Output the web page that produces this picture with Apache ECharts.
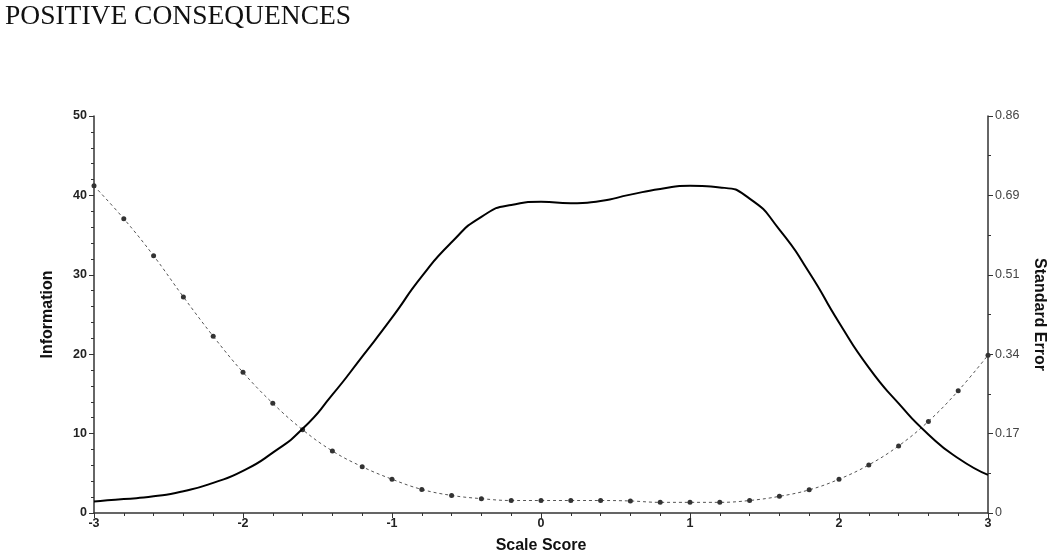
<!DOCTYPE html>
<html>
<head>
<meta charset="utf-8">
<script src="https://cdn.jsdelivr.net/npm/echarts@6/dist/echarts.min.js"></script>
<style>
html,body{margin:0;padding:0;background:#fff;overflow:hidden;width:100%;height:100%;}
#c{width:1050px;height:552px;position:absolute;left:0;top:0;}
</style>
</head>
<body>
<div id="c"></div>
<script>
// Scale score grid (x)
const scaleScores = [-3.0,-2.8,-2.6,-2.4,-2.2,-2.0,-1.8,-1.6,-1.4,-1.2,-1.0,-0.8,-0.6,-0.4,-0.2,0.0,0.2,0.4,0.6,0.8,1.0,1.2,1.4,1.6,1.8,2.0,2.2,2.4,2.6,2.8,3.0];
// Information (left axis)
const information = [1.45,1.75,2.1,2.75,3.8,5.3,7.6,10.6,14.9,19.7,24.6,29.8,34.1,37.3,38.8,39.2,39.0,39.3,40.1,40.8,41.2,41.0,39.6,35.7,30.3,24.0,18.3,13.8,9.9,6.9,4.8];
// Standard error (right axis)
const standardError = [0.707,0.636,0.556,0.467,0.382,0.304,0.237,0.180,0.134,0.100,0.073,0.051,0.038,0.031,0.027,0.027,0.027,0.027,0.026,0.023,0.023,0.023,0.027,0.036,0.050,0.073,0.104,0.145,0.198,0.264,0.341];
// Right axis tick labels
const seTickLabels = ['0','0.17','0.34','0.51','0.69','0.86'];
const seMax = 0.858;

const chart = echarts.init(document.getElementById('c'), null, {renderer:'canvas', width:1050, height:552});
const infoData = scaleScores.map((x,i)=>[x, information[i]]);
const seData = scaleScores.map((x,i)=>[x, standardError[i]]);

chart.setOption({
  animation:false,
  backgroundColor:'#fff',
  title:{
    text:'POSITIVE CONSEQUENCES',
    left:0, top:-2,
    textStyle:{fontFamily:'Liberation Serif', fontWeight:'normal', fontSize:27.5, color:'#111'}
  },
  grid:{left:94, right:62, top:116, bottom:39, containLabel:false, outerBoundsMode:'none'},
  xAxis:{
    type:'value', min:-3, max:3, interval:1,
    name:'Scale Score', nameLocation:'middle', nameGap:25,
    nameTextStyle:{fontFamily:'Liberation Sans', fontWeight:'bold', fontSize:16, color:'#111'},
    axisLine:{onZero:false, lineStyle:{color:'#333', width:1.5}},
    axisTick:{inside:false, length:5, lineStyle:{color:'#333'}},
    minorTick:{show:true, splitNumber:5, length:3, lineStyle:{color:'#333'}},
    axisLabel:{fontFamily:'Liberation Sans', fontWeight:'bold', fontSize:12.5, color:'#222', margin:4},
    splitLine:{show:false}
  },
  yAxis:[{
    type:'value', min:0, max:50, interval:10, position:'left',
    name:'Information', nameLocation:'middle', nameGap:38,
    nameTextStyle:{fontFamily:'Liberation Sans', fontWeight:'bold', fontSize:16, color:'#111'},
    axisLine:{show:true, onZero:false, lineStyle:{color:'#333', width:1.5}},
    axisTick:{show:true, length:5, lineStyle:{color:'#333'}},
    minorTick:{show:true, splitNumber:5, length:3, lineStyle:{color:'#333'}},
    axisLabel:{fontFamily:'Liberation Sans', fontWeight:'bold', fontSize:12.5, color:'#222', margin:7},
    splitLine:{show:false}
  },{
    type:'value', min:0, max:seMax, interval:seMax/5, position:'right',
    name:'Standard Error', nameLocation:'middle', nameGap:43, nameRotate:-90,
    nameTextStyle:{fontFamily:'Liberation Sans', fontWeight:'bold', fontSize:16, color:'#111'},
    axisLine:{show:true, onZero:false, lineStyle:{color:'#333', width:1.5}},
    axisTick:{show:true, length:5, lineStyle:{color:'#333'}},
    minorTick:{show:true, splitNumber:2, length:3, lineStyle:{color:'#333'}},
    axisLabel:{fontFamily:'Liberation Sans Narrow, Liberation Sans', fontSize:12.5, color:'#444', margin:7,
      formatter:function(v){ const i=Math.round(v/(seMax/5)); return seTickLabels[i]!==undefined?seTickLabels[i]:''; }},
    splitLine:{show:false}
  }],
  series:[{
    type:'line', name:'Information', yAxisIndex:0, data:infoData,
    smooth:0.6, showSymbol:false, symbol:'none',
    lineStyle:{color:'#000', width:2}, z:3
  },{
    type:'line', name:'Standard Error', yAxisIndex:1, data:seData,
    smooth:0.4, symbol:'circle', symbolSize:5,
    itemStyle:{color:'#333'},
    lineStyle:{color:'#555', width:1, type:[3,3]}, z:2
  }]
});
</script>
</body>
</html>
